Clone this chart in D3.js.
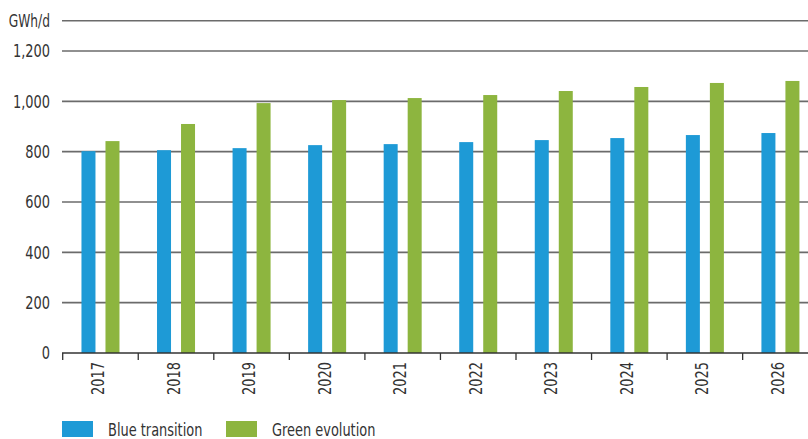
<!DOCTYPE html>
<html>
<head>
<meta charset="utf-8">
<script src="https://cdn.jsdelivr.net/npm/d3@7"></script>
<style>
  html, body { margin: 0; padding: 0; background: #fff; }
  svg { display: block; }
  text { font-family: "DejaVu Sans Condensed", "DejaVu Sans", sans-serif; font-stretch: condensed; fill: #333; }
</style>
</head>
<body>
<svg id="chart" width="808" height="439"></svg>
<script>
const years = ["2017","2018","2019","2020","2021","2022","2023","2024","2025","2026"];
const seriesNames = ["Blue transition", "Green evolution"];
const blueTransition = [802, 806, 814, 826, 830, 838, 846, 854, 866, 874];
const greenEvolution = [842, 910, 993, 1005, 1013, 1025, 1041, 1057, 1073, 1081];
const yTicks = [0, 200, 400, 600, 800, 1000, 1200];
const unitLabel = "GWh/d";
const colors = ["#1e9ad6", "#8db53f"];

const svg = d3.select("#chart");
const W = 808;
const x0 = 62.7, step = 75.55;
const SX = 0.8; // horizontal condensing factor for text

const x = d3.scaleBand().domain(years).range([x0, x0 + step * years.length]).padding(0);
const x1 = d3.scaleBand().domain(seriesNames).range([0, x.bandwidth()])
  .paddingInner(0.4167).paddingOuter(0.782);
const y = d3.scaleLinear().domain([0, 1320]).range([353, 20.8]);

// gridlines
const grid = svg.append("g");
grid.selectAll("line").data(yTicks.filter(d => d > 0).concat([1320])).join("line")
  .attr("x1", 62).attr("x2", W)
  .attr("y1", d => y(d)).attr("y2", d => y(d))
  .attr("stroke", "#6b6b6b").attr("stroke-width", 1.6);

// y labels
const yl = svg.append("g");
yl.selectAll("text").data(yTicks).join("text")
  .attr("transform", d => `translate(50,${y(d)}) scale(${SX},1)`)
  .attr("dy", "0.36em")
  .attr("text-anchor", "end").attr("font-size", 18)
  .text(d => d3.format(",")(d));
svg.append("text")
  .attr("transform", `translate(50,${y(1320)}) scale(${SX},1)`)
  .attr("dy", "0.36em")
  .attr("text-anchor", "end").attr("font-size", 17).text(unitLabel);

// bars
const data = years.map((yr, i) => ({ yr, vals: [blueTransition[i], greenEvolution[i]] }));
const groups = svg.append("g").selectAll("g").data(data).join("g")
  .attr("transform", d => `translate(${x(d.yr)},0)`);
groups.selectAll("rect").data(d => d.vals.map((v, j) => ({ v, s: seriesNames[j], j }))).join("rect")
  .attr("x", d => x1(d.s)).attr("width", x1.bandwidth())
  .attr("y", d => y(d.v)).attr("height", d => y(0) - y(d.v))
  .attr("fill", d => colors[d.j]);

// x axis line and ticks
svg.append("line").attr("x1", 62).attr("x2", W).attr("y1", y(0)).attr("y2", y(0))
  .attr("stroke", "#333").attr("stroke-width", 1.5);
const tickPos = years.map(yr => x(yr));
svg.append("g").selectAll("line").data(tickPos).join("line")
  .attr("x1", d => d).attr("x2", d => d).attr("y1", y(0)).attr("y2", y(0) + 7)
  .attr("stroke", "#333").attr("stroke-width", 1.3);

// x labels rotated
svg.append("g").selectAll("text").data(years).join("text")
  .attr("transform", d => `translate(${x(d) + x.bandwidth() / 2 - 3},362) rotate(-90) scale(${SX},1)`)
  .attr("text-anchor", "end").attr("dy", "0.36em").attr("font-size", 18)
  .text(d => d);

// legend
const legend = svg.append("g");
const legX = [62, 226];
seriesNames.forEach((s, i) => {
  legend.append("rect").attr("x", legX[i]).attr("y", 421).attr("width", 31).attr("height", 16)
    .attr("fill", colors[i]);
  legend.append("text")
    .attr("transform", `translate(${legX[i] + 46},436) scale(${SX},1)`)
    .attr("font-size", 18).text(s);
});
</script>
</body>
</html>
